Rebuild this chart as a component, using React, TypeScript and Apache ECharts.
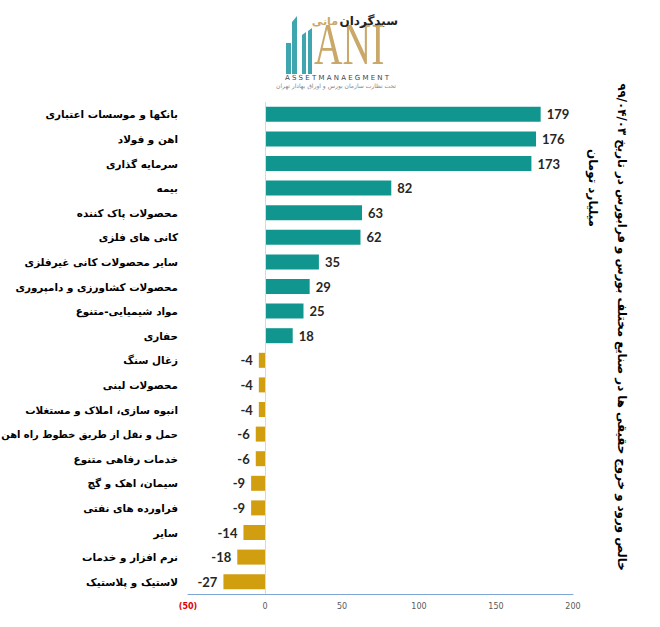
import React, { useEffect, useRef } from 'react';
import * as echarts from 'echarts';

const categories: string[] = [
  'بانکها و موسسات اعتباری',
  'اهن و فولاد',
  'سرمایه گذاری',
  'بیمه',
  'محصولات پاک کننده',
  'کانی های فلزی',
  'سایر محصولات کانی غیرفلزی',
  'محصولات کشاورزی و دامپروری',
  'مواد شیمیایی-متنوع',
  'حفاری',
  'زغال سنگ',
  'محصولات لبنی',
  'انبوه سازی، املاک و مستغلات',
  'حمل و نقل از طریق خطوط راه اهن',
  'خدمات رفاهی متنوع',
  'سیمان، اهک و گچ',
  'فراورده های نفتی',
  'سایر',
  'نرم افزار و خدمات',
  'لاستیک و پلاستیک',
];

const values: number[] = [179, 176, 173, 82, 63, 62, 35, 29, 25, 18, -4, -4, -4, -6, -6, -9, -9, -14, -18, -27];

const xMin = -50;
const xMax = 200;
const xInterval = 50;

const titleText = 'خالص ورود و خروج حقیقی ها در صنایع مختلف بورس و فرابورس در تاریخ ۹۹/۰۴/۰۳';
const unitText = 'میلیارد تومان';

const TEAL = '#10968F';
const GOLD = '#D19E10';
const LOGO_TEAL = '#3FA6B0';
const LOGO_GOLD = '#C9A86A';

const LABEL_FONT_SIZE = 10.4;
const LABEL_MAX_WIDTH = 177;

function fitFontSize(text: string): number {
  try {
    const c = document.createElement('canvas');
    const ctx = c.getContext('2d');
    if (!ctx) return LABEL_FONT_SIZE;
    ctx.font = `bold ${LABEL_FONT_SIZE}px "DejaVu Sans"`;
    const w = ctx.measureText(text).width;
    if (w > LABEL_MAX_WIDTH) return Math.floor((LABEL_FONT_SIZE * LABEL_MAX_WIDTH * 10) / w) / 10;
  } catch (e) {
    /* ignore */
  }
  return LABEL_FONT_SIZE;
}

export default function App() {
  const ref = useRef<HTMLDivElement>(null);

  useEffect(() => {
    if (!ref.current) return;
    const chart = echarts.init(ref.current, null, { renderer: 'svg' });

    const yData = categories.map((name) => {
      const fs = fitFontSize(name);
      return fs === LABEL_FONT_SIZE ? name : { value: name, textStyle: { fontSize: fs } };
    });

    const option: any = {
      animation: false,
      backgroundColor: '#ffffff',
      grid: { left: 188, right: 87, top: 102, bottom: 33, containLabel: false, outerBoundsMode: 'none' },
      xAxis: {
        type: 'value',
        min: xMin,
        max: xMax,
        interval: xInterval,
        axisLine: { show: true, onZero: false, lineStyle: { color: '#7FA5D6', width: 1 } },
        axisTick: { show: false },
        splitLine: { show: false },
        axisLabel: {
          margin: 8,
          fontSize: 8,
          fontFamily: 'DejaVu Sans',
          color: '#595959',
          formatter: (v: number) => (v < 0 ? `{neg|(${-v})}` : `${v}`),
          rich: {
            neg: { color: '#E00000', fontSize: 8, fontWeight: 'bold', fontFamily: 'DejaVu Sans' },
          },
        },
      },
      yAxis: {
        type: 'category',
        inverse: true,
        data: yData,
        axisLine: { show: false, onZero: false },
        axisTick: { show: false },
        splitLine: { show: false },
        axisLabel: {
          margin: 10,
          fontSize: LABEL_FONT_SIZE,
          fontWeight: 'bold',
          fontFamily: 'DejaVu Sans',
          color: '#000000',
        },
      },
      series: [
        {
          type: 'bar',
          barWidth: 15,
          data: values.map((v) => ({
            value: v,
            itemStyle: { color: v >= 0 ? TEAL : GOLD },
            label: { position: v >= 0 ? 'right' : 'left' },
          })),
          label: {
            show: true,
            distance: 6,
            fontSize: 13,
            fontWeight: 'bold',
            fontFamily: 'Lato',
            color: '#262626',
          },
          markLine: {
            silent: true,
            symbol: 'none',
            label: { show: false },
            lineStyle: { color: '#D9D9D9', width: 1, type: 'solid' },
            data: [{ xAxis: 0 }],
          },
        },
      ],
      graphic: [
        {
          type: 'text',
          x: 622,
          y: 327,
          rotation: -Math.PI / 2,
          style: {
            text: titleText,
            font: 'bold 11.8px "DejaVu Sans"',
            fill: '#000000',
            textAlign: 'center',
            textVerticalAlign: 'middle',
          },
        },
        {
          type: 'text',
          x: 593,
          y: 188,
          rotation: -Math.PI / 2,
          style: {
            text: unitText,
            font: 'bold 12px "DejaVu Sans"',
            fill: '#000000',
            textAlign: 'center',
            textVerticalAlign: 'middle',
          },
        },
        // logo
        {
          type: 'group',
          children: [
            { type: 'rect', shape: { x: 286, y: 43, width: 5, height: 31 }, style: { fill: LOGO_TEAL } },
            { type: 'polygon', shape: { points: [[292, 22], [297, 16], [297, 74], [292, 74]] }, style: { fill: LOGO_TEAL } },
            { type: 'polygon', shape: { points: [[302, 35], [306, 32], [306, 74], [302, 74]] }, style: { fill: LOGO_TEAL } },
            { type: 'polygon', shape: { points: [[308, 31], [312, 28], [312, 74], [308, 74]] }, style: { fill: LOGO_TEAL } },
            {
              type: 'text',
              x: 314,
              y: 74,
              scaleX: 0.66,
              style: {
                text: 'ANI',
                font: '60px "Liberation Serif"',
                fill: LOGO_GOLD,
                textAlign: 'left',
                textVerticalAlign: 'bottom',
              },
            },
            {
              type: 'text',
              x: 398,
              y: 21,
              style: {
                text: 'سبدگردان',
                font: 'bold 12px "DejaVu Sans"',
                fill: '#222222',
                textAlign: 'right',
                textVerticalAlign: 'middle',
              },
            },
            {
              type: 'text',
              x: 338,
              y: 21,
              style: {
                text: 'مانی',
                font: 'bold 11px "DejaVu Sans"',
                fill: LOGO_GOLD,
                textAlign: 'right',
                textVerticalAlign: 'middle',
              },
            },
            {
              type: 'text',
              x: 337,
              y: 78,
              style: {
                text: 'A S S E T M A N A E G M E N T',
                font: '7px "DejaVu Sans"',
                fill: '#444444',
                textAlign: 'center',
                textVerticalAlign: 'middle',
              },
            },
            {
              type: 'text',
              x: 336,
              y: 85,
              style: {
                text: 'تحت نظارت سازمان بورس و اوراق بهادار تهران',
                font: '6px "DejaVu Sans"',
                fill: '#888888',
                textAlign: 'center',
                textVerticalAlign: 'middle',
              },
            },
          ],
        },
      ],
    };

    chart.setOption(option);
    return () => chart.dispose();
  }, []);

  return (
    <div
      ref={ref}
      style={{ position: 'fixed', left: 0, top: 0, width: 660, height: 627 }}
    />
  );
}
